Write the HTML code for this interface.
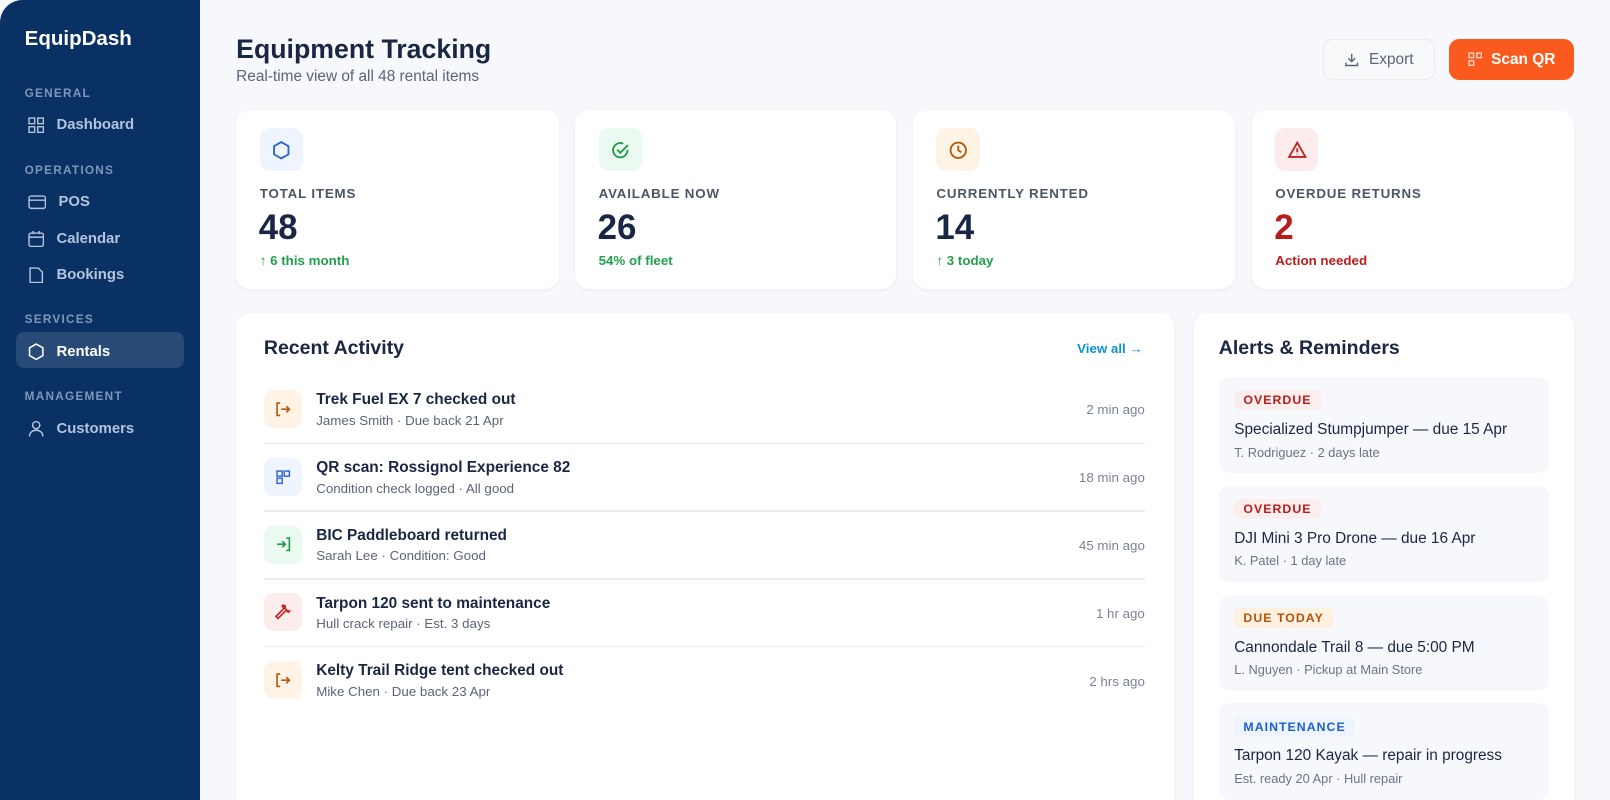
<!DOCTYPE html>
<html><head><meta charset="utf-8">
<style>
html,body{margin:0;padding:0;background:#f6f8fb;overflow:hidden}
body{width:1610px;height:800px}
#root{zoom:1.02679;width:1568px;height:779px;position:relative;font-family:"Liberation Sans",sans-serif;background:#f6f8fb;overflow:hidden}
.abs{position:absolute}
.side{left:0;top:0;width:195px;height:779px;background:#0a3163;border-top-left-radius:22px}
.logo{left:24px;top:26px;color:#fff;font-size:20px;font-weight:bold}
.sec{left:24px;color:#7d97bb;font-size:11.5px;font-weight:bold;letter-spacing:1.2px}
.item{left:27px;color:#b3c4dc;font-size:14.5px;font-weight:bold;display:flex;align-items:center}
.item svg{margin-right:12px}
.active{left:16px;top:323px;width:163px;height:35px;background:rgba(255,255,255,0.12);border-radius:8px}
.card{background:#fff;border-radius:14px;box-shadow:0 1px 3px rgba(20,30,60,0.05)}
.ib{width:42px;height:42px;border-radius:10px;display:flex;align-items:center;justify-content:center}
.lbl{font-size:13px;color:#4b5567;letter-spacing:0.8px;font-weight:bold}
.num{font-size:34px;font-weight:bold;color:#1a2744}
.sub{font-size:13px;font-weight:bold;color:#22a04b}
.row{left:257px;width:858px;height:66px}
.ri{position:absolute;left:0;top:0;width:37px;height:37px;border-radius:9px;display:flex;align-items:center;justify-content:center}
.rt{position:absolute;left:51px;top:1px;font-size:15px;font-weight:bold;color:#1a2744}
.rs{position:absolute;left:51px;top:22px;font-size:13px;color:#5b6478}
.rtime{position:absolute;right:0;top:12px;font-size:13px;color:#7a8294}
.div{position:absolute;left:0;right:0;top:51px;height:1.5px;background:#e9ecf1}
.al{left:1187px;width:322px;height:94px;background:#f6f8fb;border-radius:10px}
.badge{position:absolute;left:15px;top:13px;padding:3px 9px;font-size:12px;font-weight:bold;letter-spacing:1px;border-radius:6px}
.at{position:absolute;left:15px;top:43px;font-size:15px;color:#1a2744;font-weight:500}
.as{position:absolute;left:15px;top:66px;font-size:12.5px;color:#6b7385}
</style></head><body><div id="root">
<div class="abs side"></div>
<div class="abs logo">EquipDash</div>
<div class="abs sec" style="top:84px">GENERAL</div>
<div class="abs item" style="top:114px"><svg width="16" height="16" viewBox="0 0 16 16" fill="none" stroke="#b3c4dc" stroke-width="1.4"><rect x="1" y="1" width="5.5" height="5.5"/><rect x="9.5" y="1" width="5.5" height="5.5"/><rect x="1" y="9.5" width="5.5" height="5.5"/><rect x="9.5" y="9.5" width="5.5" height="5.5"/></svg>Dashboard</div>
<div class="abs sec" style="top:159px">OPERATIONS</div>
<div class="abs item" style="top:189px"><svg width="18" height="16" viewBox="0 0 18 16" fill="none" stroke="#b3c4dc" stroke-width="1.4"><rect x="1" y="2" width="16" height="12" rx="2"/><line x1="1" y1="6" x2="17" y2="6"/></svg>POS</div>
<div class="abs item" style="top:224px"><svg width="16" height="17" viewBox="0 0 16 17" fill="none" stroke="#b3c4dc" stroke-width="1.4"><rect x="1" y="3" width="14" height="13" rx="2"/><line x1="1" y1="7" x2="15" y2="7"/><line x1="5" y1="1" x2="5" y2="4"/><line x1="11" y1="1" x2="11" y2="4"/></svg>Calendar</div>
<div class="abs item" style="top:259px"><svg width="16" height="17" viewBox="0 0 16 17" fill="none" stroke="#b3c4dc" stroke-width="1.4"><path d="M2 2h8l4 4v10H2z"/></svg>Bookings</div>
<div class="abs sec" style="top:304px">SERVICES</div>
<div class="abs active"></div>
<div class="abs item" style="top:334px;color:#fff;font-weight:bold"><svg width="16" height="17" viewBox="0 0 16 17" fill="none" stroke="#fff" stroke-width="1.5"><path d="M8 1l6.5 3.75v7.5L8 16l-6.5-3.75v-7.5z"/></svg>Rentals</div>
<div class="abs sec" style="top:379px">MANAGEMENT</div>
<div class="abs item" style="top:409px"><svg width="16" height="17" viewBox="0 0 16 17" fill="none" stroke="#b3c4dc" stroke-width="1.4"><circle cx="8" cy="5" r="3.5"/><path d="M1.5 16c0-4 3-6 6.5-6s6.5 2 6.5 6"/></svg>Customers</div>

<div class="abs" style="left:230px;top:33px;font-size:26px;font-weight:bold;color:#1a2744">Equipment Tracking</div>
<div class="abs" style="left:230px;top:66px;font-size:15px;color:#5b6478">Real-time view of all 48 rental items</div>
<div class="abs" style="left:1288px;top:38px;width:108px;height:38px;border:1px solid #e8ebf0;border-radius:9px;background:#f8f9fb;display:flex;align-items:center;justify-content:center;font-size:15px;color:#5b6478;font-weight:500"><svg width="15" height="15" viewBox="0 0 16 16" fill="none" stroke="#5b6478" stroke-width="1.5" style="margin-right:9px"><path d="M8 2v8M4.5 6.5L8 10l3.5-3.5M2 11v3h12v-3"/></svg>Export</div>
<div class="abs" style="left:1411px;top:38px;width:122px;height:40px;border-radius:10px;background:#fa5a1e;display:flex;align-items:center;justify-content:center;font-size:15px;color:#fff;font-weight:bold"><svg width="14" height="14" viewBox="0 0 14 14" fill="none" stroke="#ffd9c8" stroke-width="1.3" style="margin-right:9px"><rect x="1" y="1" width="4.5" height="4.5"/><rect x="8.5" y="1" width="4.5" height="4.5"/><rect x="1" y="8.5" width="4.5" height="4.5"/></svg>Scan QR</div>

<div class="abs card" style="left:230px;top:107px;width:314px;height:174px"></div>
<div class="abs card" style="left:560px;top:107px;width:313px;height:174px"></div>
<div class="abs card" style="left:889px;top:107px;width:314px;height:174px"></div>
<div class="abs card" style="left:1219px;top:107px;width:314px;height:174px"></div>

<div class="abs ib" style="left:253px;top:125px;background:#eef5fe"><svg width="20" height="20" viewBox="0 0 20 20" fill="none" stroke="#2b63d0" stroke-width="1.8"><path d="M10 2l7 4v8l-7 4-7-4V6z"/></svg></div>
<div class="abs ib" style="left:583px;top:125px;background:#eafaf0"><svg width="20" height="20" viewBox="0 0 20 20" fill="none" stroke="#1f9b48" stroke-width="1.8"><path d="M17 9.5A7 7 0 1 1 13 3.6"/><path d="M7 9.5l3 3 7.5-7.5"/></svg></div>
<div class="abs ib" style="left:912px;top:125px;background:#fff3e5"><svg width="20" height="20" viewBox="0 0 20 20" fill="none" stroke="#b35a0e" stroke-width="1.8"><circle cx="10" cy="10" r="7.5"/><path d="M10 5.5V10l3 2"/></svg></div>
<div class="abs ib" style="left:1242px;top:125px;background:#fdecec"><svg width="20" height="20" viewBox="0 0 20 20" fill="none" stroke="#c02424" stroke-width="1.8"><path d="M10 2.5l8 14H2z"/><path d="M10 8v4M10 14v.5"/></svg></div>

<div class="abs lbl" style="left:253px;top:181px">TOTAL ITEMS</div>
<div class="abs lbl" style="left:583px;top:181px">AVAILABLE NOW</div>
<div class="abs lbl" style="left:912px;top:181px">CURRENTLY RENTED</div>
<div class="abs lbl" style="left:1242px;top:181px">OVERDUE RETURNS</div>
<div class="abs num" style="left:252px;top:203px">48</div>
<div class="abs num" style="left:582px;top:203px">26</div>
<div class="abs num" style="left:911px;top:203px">14</div>
<div class="abs num" style="left:1241px;top:203px;color:#b91c1c">2</div>
<div class="abs sub" style="left:253px;top:246px">↑ 6 this month</div>
<div class="abs sub" style="left:583px;top:246px">54% of fleet</div>
<div class="abs sub" style="left:912px;top:246px">↑ 3 today</div>
<div class="abs sub" style="left:1242px;top:246px;color:#b91c1c">Action needed</div>

<div class="abs card" style="left:230px;top:305px;width:913px;height:500px"></div>
<div class="abs" style="left:257px;top:328px;font-size:19px;font-weight:bold;color:#1a2744">Recent Activity</div>
<div class="abs" style="left:1049px;top:332px;font-size:13px;font-weight:bold;color:#0f8fd6">View all →</div>

<div class="abs row" style="top:380px"><div class="ri" style="background:#fff3e5"><svg width="18" height="18" viewBox="0 0 18 18" fill="none" stroke="#b35a0e" stroke-width="1.6"><path d="M6 3H3v12h3M7 9h8M12 6l3 3-3 3"/></svg></div><div class="rt">Trek Fuel EX 7 checked out</div><div class="rs">James Smith · Due back 21 Apr</div><div class="rtime">2 min ago</div><div class="div"></div></div>
<div class="abs row" style="top:446px"><div class="ri" style="background:#eef5fe"><svg width="16" height="16" viewBox="0 0 16 16" fill="none" stroke="#2b63d0" stroke-width="1.4"><rect x="2" y="2" width="5" height="5"/><rect x="9" y="2" width="5" height="5"/><rect x="2" y="9" width="5" height="5"/></svg></div><div class="rt">QR scan: Rossignol Experience 82</div><div class="rs">Condition check logged · All good</div><div class="rtime">18 min ago</div><div class="div"></div></div>
<div class="abs row" style="top:512px"><div class="ri" style="background:#eafaf0"><svg width="18" height="18" viewBox="0 0 18 18" fill="none" stroke="#1f9b48" stroke-width="1.6"><path d="M12 3h3v12h-3M3 9h8M8 6l3 3-3 3"/></svg></div><div class="rt">BIC Paddleboard returned</div><div class="rs">Sarah Lee · Condition: Good</div><div class="rtime">45 min ago</div><div class="div"></div></div>
<div class="abs row" style="top:578px"><div class="ri" style="background:#fdecec"><svg width="18" height="18" viewBox="0 0 18 18" fill="none" stroke="#c02424" stroke-width="1.6"><path d="M11 3a4 4 0 0 0 4 5l-1 1-2-2-8 8-2-2 8-8-2-2 1-1a4 4 0 0 0 2 1z"/></svg></div><div class="rt">Tarpon 120 sent to maintenance</div><div class="rs">Hull crack repair · Est. 3 days</div><div class="rtime">1 hr ago</div><div class="div"></div></div>
<div class="abs row" style="top:644px"><div class="ri" style="background:#fff3e5"><svg width="18" height="18" viewBox="0 0 18 18" fill="none" stroke="#b35a0e" stroke-width="1.6"><path d="M6 3H3v12h3M7 9h8M12 6l3 3-3 3"/></svg></div><div class="rt">Kelty Trail Ridge tent checked out</div><div class="rs">Mike Chen · Due back 23 Apr</div><div class="rtime">2 hrs ago</div></div>

<div class="abs card" style="left:1163px;top:305px;width:370px;height:500px"></div>
<div class="abs" style="left:1187px;top:328px;font-size:19px;font-weight:bold;color:#1a2744">Alerts &amp; Reminders</div>
<div class="abs al" style="top:367px"><div class="badge" style="background:#fdeeee;color:#b91c1c">OVERDUE</div><div class="at">Specialized Stumpjumper — due 15 Apr</div><div class="as">T. Rodriguez · 2 days late</div></div>
<div class="abs al" style="top:473px"><div class="badge" style="background:#fdeeee;color:#b91c1c">OVERDUE</div><div class="at">DJI Mini 3 Pro Drone — due 16 Apr</div><div class="as">K. Patel · 1 day late</div></div>
<div class="abs al" style="top:579px"><div class="badge" style="background:#fff1e0;color:#b45309">DUE TODAY</div><div class="at">Cannondale Trail 8 — due 5:00 PM</div><div class="as">L. Nguyen · Pickup at Main Store</div></div>
<div class="abs al" style="top:685px"><div class="badge" style="background:#edf4fe;color:#1d5fd0">MAINTENANCE</div><div class="at">Tarpon 120 Kayak — repair in progress</div><div class="as">Est. ready 20 Apr · Hull repair</div></div>
</div></body></html>
